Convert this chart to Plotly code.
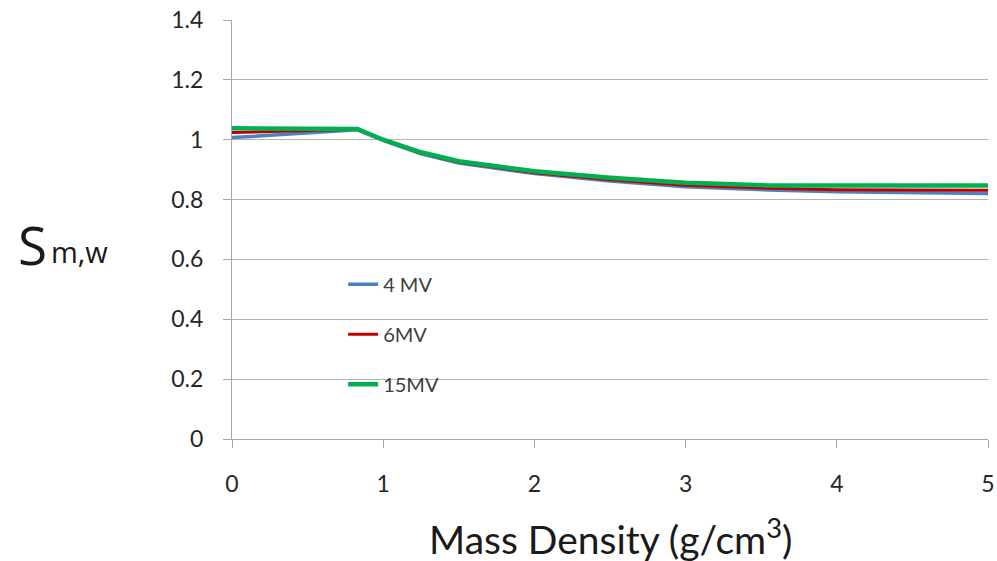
import plotly.graph_objects as go

density = [0, 0.83, 1.0, 1.25, 1.5, 2.0, 2.5, 3.0, 3.55, 4.0, 5.0]
s_4mv = [1.007, 1.033, 0.998, 0.953, 0.922, 0.887, 0.862, 0.843, 0.832, 0.826, 0.820]
s_6mv = [1.024, 1.035, 0.999, 0.955, 0.925, 0.890, 0.866, 0.848, 0.838, 0.833, 0.831]
s_15mv = [1.038, 1.036, 1.000, 0.958, 0.928, 0.895, 0.873, 0.856, 0.847, 0.847, 0.847]
series_names = ["4 MV", "6MV", "15MV"]
x_ticks = [0, 1, 2, 3, 4, 5]
y_ticks = [0, 0.2, 0.4, 0.6, 0.8, 1, 1.2, 1.4]
y_tick_text = ["0", "0.2", "0.4", "0.6", "0.8", "1", "1.2", "1.4"]

fig = go.Figure()
for name, ys, color, w, grp in [
    (series_names[0], s_4mv, "#4F81BD", 3.5, "a"),
    (series_names[1], s_6mv, "#C00000", 3, "b"),
    (series_names[2], s_15mv, "#00B050", 4.5, "c"),
]:
    fig.add_trace(go.Scatter(x=density, y=ys, mode="lines", name=name, legendgroup=grp,
                             line=dict(color=color, width=w)))

axis_font = dict(family="Lato, Open Sans, sans-serif", size=23, color="#262626")
fig.update_layout(
    width=997, height=561,
    margin=dict(l=232, r=9, t=20, b=122, autoexpand=False),
    paper_bgcolor="white", plot_bgcolor="white",
    showlegend=True,
    legend=dict(x=0.147, y=0.416, xanchor="left", yanchor="top",
                font=dict(family="Lato, Open Sans, sans-serif", size=20, color="#404040"),
                tracegroupgap=21, traceorder="grouped", bgcolor="rgba(0,0,0,0)"),
    xaxis=dict(range=[0, 5], tickvals=x_ticks, showgrid=False, zeroline=False,
               showline=True, linecolor="#a6a6a6", linewidth=1,
               ticks="outside", ticklen=8, tickcolor="#a6a6a6",
               tickfont=axis_font, ticklabelstandoff=16),
    yaxis=dict(range=[0, 1.4], tickvals=y_ticks, ticktext=y_tick_text,
               showgrid=True, gridcolor="#b3b3b3", gridwidth=1, zeroline=False,
               showline=True, linecolor="#a6a6a6", linewidth=1,
               ticks="outside", ticklen=8, tickcolor="#a6a6a6",
               tickfont=axis_font, ticklabelstandoff=15),
)
# x-axis title
fig.add_annotation(xref="paper", yref="paper", x=0.5, y=(439 - 536) / 419,
                   text="Mass Density (g/cm<sup>3</sup>)", showarrow=False,
                   xanchor="center", yanchor="middle",
                   font=dict(family="Lato, Open Sans, sans-serif", size=39, color="#1a1a1a"))
# y-axis title: S with subscript-like m,w
fig.add_annotation(xref="paper", yref="paper", x=(49 - 232) / 756, y=(439 - 245) / 419,
                   text="S", showarrow=False, xanchor="right", yanchor="middle",
                   font=dict(family="Open Sans, sans-serif", size=53, color="#1a1a1a"))
fig.add_annotation(xref="paper", yref="paper", x=(49 - 232) / 756, y=(439 - 251) / 419,
                   text="m,w", showarrow=False, xanchor="left", yanchor="middle",
                   font=dict(family="Open Sans, sans-serif", size=29, color="#1a1a1a"))
fig.write_html("out.html", post_script="document.body.style.margin='0';",
               config={"displayModeBar": False})
